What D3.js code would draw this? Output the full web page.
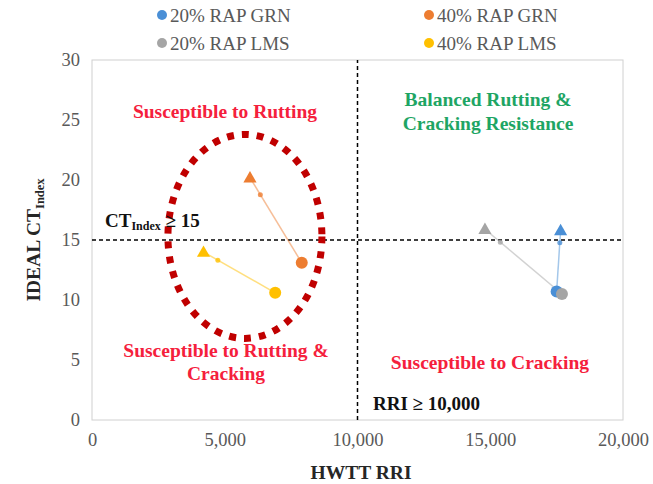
<!DOCTYPE html>
<html><head><meta charset="utf-8">
<script src="https://cdn.jsdelivr.net/npm/d3@7"></script>
<style>body{margin:0;background:#fff}svg{display:block}text{font-family:"Liberation Serif","Times New Roman",serif}</style>
</head><body><svg id="c" width="653" height="484"></svg>
<script>
const seriesNames = ["20% RAP GRN","40% RAP GRN","20% RAP LMS","40% RAP LMS"];
const seriesColors = ["#4a8fd6","#ed7d31","#a5a5a5","#ffc000"];
// [RRI, CT_Index] for triangle (first) and circle (second)
const triRRI = [17650, 5950, 14800, 4200];
const triCT  = [15.8, 20.2, 15.9, 14.0];
const cirRRI = [17500, 7900, 17700, 6900];
const cirCT  = [10.7, 13.1, 10.5, 10.6];
const xTicks = [0,5000,10000,15000,20000];
const yTicks = [0,5,10,15,20,25,30];
const ctThreshold = 15, rriThreshold = 10000;

const svg = d3.select("#c");
const m = {l:92, r:30, t:60, b:64};
const W = 653, H = 484;
const x = d3.scaleLinear().domain([0,20000]).range([m.l, W-m.r]);
const y = d3.scaleLinear().domain([0,30]).range([H-m.b, m.t]);

// plot border
svg.append("rect").attr("x",x(0)).attr("y",y(30)).attr("width",x(20000)-x(0)).attr("height",y(0)-y(30))
  .attr("fill","none").attr("stroke","#d0d0d0").attr("stroke-width",1);

const fmt = d3.format(",");
const xa = svg.append("g").attr("transform",`translate(0,${y(0)})`)
  .call(d3.axisBottom(x).tickValues(xTicks).tickFormat(fmt).tickSize(0).tickPadding(13));
const ya = svg.append("g").attr("transform",`translate(${x(0)},0)`)
  .call(d3.axisLeft(y).tickValues(yTicks).tickSize(0).tickPadding(12));
[xa,ya].forEach(a=>{a.select(".domain").remove();a.selectAll("text").attr("font-size",18.5).attr("fill","#595959").attr("font-family","Liberation Serif");});

// threshold lines
svg.append("line").attr("x1",x(0)).attr("x2",x(20000)).attr("y1",y(ctThreshold)).attr("y2",y(ctThreshold))
  .attr("stroke","#000").attr("stroke-width",1.5).attr("stroke-dasharray","4,3");
svg.append("line").attr("x1",x(rriThreshold)).attr("x2",x(rriThreshold)).attr("y1",y(0)).attr("y2",y(30))
  .attr("stroke","#000").attr("stroke-width",1.5).attr("stroke-dasharray","4,3");

// axis titles
svg.append("text").attr("x",361).attr("y",479).attr("text-anchor","middle")
  .attr("font-size",19.5).attr("font-weight","bold").attr("fill","#262626").text("HWTT RRI");
const yt = svg.append("text").attr("transform",`translate(40,${y(15)}) rotate(-90)`).attr("text-anchor","middle")
  .attr("font-size",19.5).attr("font-weight","bold").attr("fill","#262626");
yt.append("tspan").text("IDEAL CT");
yt.append("tspan").attr("font-size",12.5).attr("dy",4).text("Index");

// series lines and markers
seriesNames.forEach((n,i)=>{
  const x1=x(triRRI[i]), y1=y(triCT[i]), x2=x(cirRRI[i]), y2=y(cirCT[i]);
  svg.append("line").attr("x1",x1).attr("y1",y1).attr("x2",x2).attr("y2",y2)
    .attr("stroke",seriesColors[i]).attr("stroke-opacity",0.5).attr("stroke-width",1.5);
  svg.append("circle").attr("cx",x1+(x2-x1)*0.2).attr("cy",y1+(y2-y1)*0.2).attr("r",2.5)
    .attr("fill",seriesColors[i]).attr("opacity",0.8);
});
seriesNames.forEach((n,i)=>{
  svg.append("path").attr("d",d3.symbol(d3.symbolTriangle,75)())
    .attr("transform",`translate(${x(triRRI[i])},${y(triCT[i])+1})`).attr("fill",seriesColors[i]);
  svg.append("circle").attr("cx",x(cirRRI[i])).attr("cy",y(cirCT[i])).attr("r",6).attr("fill",seriesColors[i]);
});

// ellipse
svg.append("ellipse").attr("cx",x(5760)).attr("cy",y(15.3)).attr("rx",x(2900)-x(0)).attr("ry",y(0)-y(8.5))
  .attr("fill","none").attr("stroke","#c00000").attr("stroke-width",7).attr("stroke-dasharray","7,8");

// annotations
function label(t,cx,cy,col){svg.append("text").attr("x",cx).attr("y",cy).attr("text-anchor","middle")
  .attr("font-size",19.5).attr("font-weight","bold").attr("fill",col).text(t);}
const red="#f5203c", green="#1ea564";
label("Susceptible to Rutting",225,118,red);
label("Balanced Rutting &",488,106,green);
label("Cracking Resistance",488,130,green);
label("Susceptible to Rutting &",226,357,red);
label("Cracking",226,380,red);
label("Susceptible to Cracking",490,369,red);
const ct = svg.append("text").attr("x",105).attr("y",227).attr("font-size",19).attr("font-weight","bold").attr("fill","#111");
ct.append("tspan").text("CT");
ct.append("tspan").attr("font-size",12).attr("dy",3).text("Index");
ct.append("tspan").attr("dy",-3).text(" \u2265 15");
svg.append("text").attr("x",373).attr("y",410).attr("font-size",19).attr("font-weight","bold").attr("fill","#111").text("RRI \u2265 10,000");

// legend
const legPos = [[162,15],[429,15],[162,43],[429,43]];
seriesNames.forEach((n,i)=>{
  const g = svg.append("g").attr("transform",`translate(${legPos[i][0]},${legPos[i][1]})`);
  g.append("circle").attr("r",5).attr("fill",seriesColors[i]);
  g.append("text").attr("x",8).attr("y",6.5).attr("font-size",19).attr("fill","#595959").text(n);
});
</script></body></html>
